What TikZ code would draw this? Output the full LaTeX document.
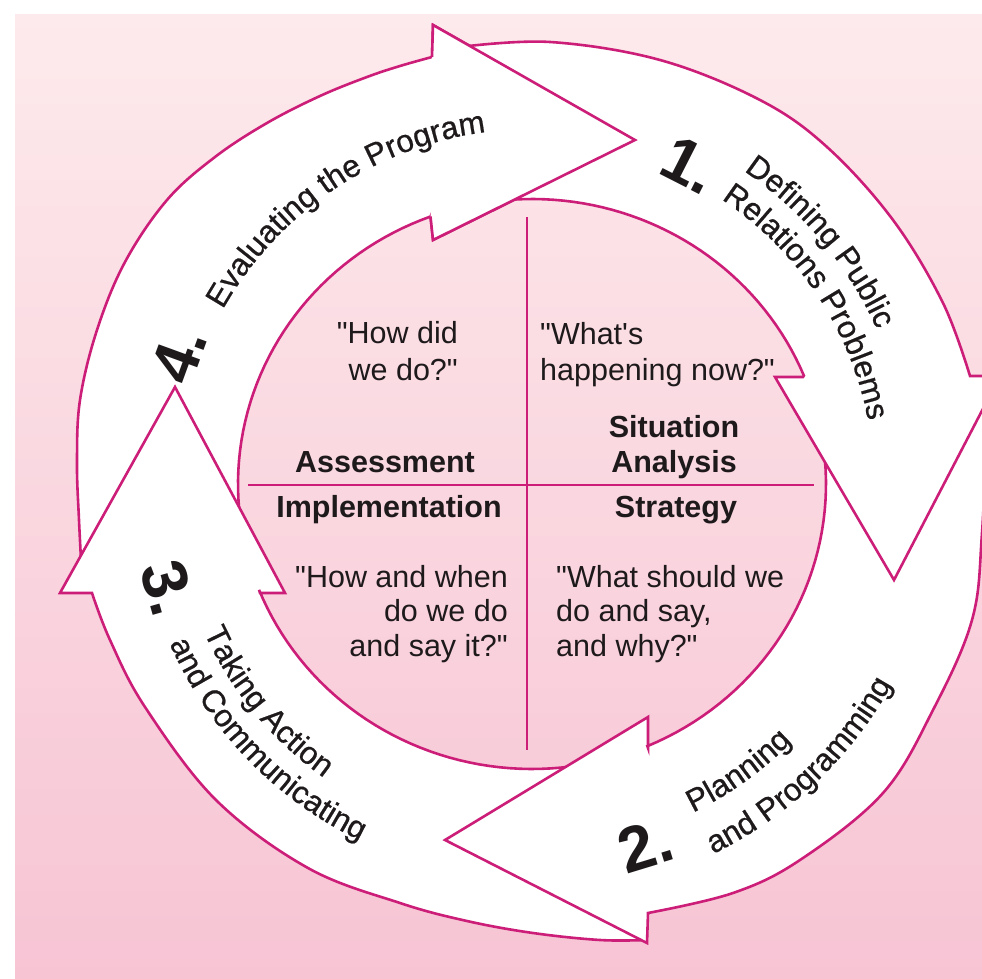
\documentclass[tikz,border=0pt]{standalone}
\usepackage{fontspec}
\setmainfont{Liberation Sans}
\newfontfamily\labfam{Liberation Sans}[FakeBold=0.7]
\usetikzlibrary{decorations.text}
\definecolor{edge}{RGB}{204,30,120}
\definecolor{bgtop}{RGB}{253,234,236}
\definecolor{bgbot}{RGB}{247,196,212}
\definecolor{ink}{RGB}{30,26,28}
\newcommand{\qfont}{\fontsize{30.5}{35}\selectfont}
\newcommand{\lfont}{\labfam\fontsize{31.5}{35}\selectfont}
\newcommand{\nfont}{\fontsize{64}{70}\selectfont\bfseries}
\newcommand{\qq}{\textquotedbl}
\begin{document}
\begin{tikzpicture}[x=1pt,y=-1pt,
  arr/.style={fill=white,draw=edge,line width=2.6pt,line join=miter},
  cross/.style={draw=edge,line width=2.6pt},
  quad/.style={font=\qfont,inner sep=0pt,text=ink},
  bquad/.style={font=\qfont\bfseries,inner sep=0pt,text=ink},
  num/.style={font=\nfont,inner sep=0pt,text=ink},
  lab/.style={decorate,decoration={text along path,text align=center,text color=ink}}]
\useasboundingbox (0,0) rectangle (982,979);
\begin{scope}
\clip (0,0) rectangle (982,979);
\fill[white] (0,0) rectangle (982,979);
\shade[top color=bgtop,bottom color=bgbot] (15,15) rectangle (982,979);

% cross
\coordinate (hl) at (248,485); \coordinate (hr) at (814,485);
\coordinate (vt) at (527,217); \coordinate (vb) at (527,750);
\draw[cross] (hl) -- (hr);
\draw[cross] (vt) -- (vb);

% arrow 4 (Evaluating)
\filldraw[arr] plot[smooth,tension=0.6] coordinates {(82,578) (79,520) (77,463) (80,400) (97,330) (125,262) (167,200) (215,157) (267,123) (320,96) (367,77) (400,66) (432,57)}
  -- (433,25) -- (635,140) -- (433,240) -- (430.5,216.5)
  -- plot[domain=110.2:187,samples=40] ({532+294*cos(\x)},{484-285*sin(\x)}) -- cycle;
% arrow 3 (Taking action)
\filldraw[arr] plot[smooth,tension=0.6] coordinates {(646,940) (600,940) (533,933) (467,921) (400,903) (308,868) (216,800) (145,707) (110,640) (92,593)}
  -- (60,593) -- (175,387) -- (285,593) -- (260,593)
  -- plot[domain=201.8:279.6,samples=40] ({532+294*cos(\x)},{484-285*sin(\x)}) -- cycle;
% arrow 2 (Planning)
\filldraw[arr] plot[smooth,tension=0.6] coordinates {(988,398) (982,533) (972,620) (933,710) (883,793) (800,860) (733,893) (648,913)}
  -- (647,943) -- (445,840) -- (648,717) -- (648,748)
  -- plot[domain=-66.9:13.1,samples=40] ({532+294*cos(\x)},{484-285*sin(\x)}) -- cycle;
% arrow 1 (Defining)
\filldraw[arr] plot[smooth,tension=0.6] coordinates {(460,47) (550,42) (660,60) (760,100) (827,147) (893,220) (943,303) (970,376)}
  -- (1000,376) -- (894,580) -- (775,377) -- (803,377)
  -- plot[domain=22.35:97.3,samples=40] ({532+294*cos(\x)},{484-285*sin(\x)}) -- cycle;
% head of arrow 4 over the tail of arrow 1
\fill[white] (432,57) -- (433,25) -- (635,140) -- (433,240) -- (430.5,216.5) -- cycle;
\draw[edge,line width=2.6pt,line join=miter] (432,57) -- (433,25) -- (635,140) -- (433,240) -- (430.5,216.5);

% arrow labels
\path[lab,decoration={text={|\lfont|Evaluating the Program}}]
  plot[domain=170:78,samples=90] ({532+355*cos(\x)},{484-355*sin(\x)});
\path[lab,decoration={text={|\lfont|Defining Public}}]
  plot[domain=75:5,samples=90] ({532+378*cos(\x)},{484-378*sin(\x)});
\path[lab,decoration={text={|\lfont|Relations Problems}}]
  plot[domain=70:-3,samples=90] ({532+342*cos(\x)},{484-342*sin(\x)});
\path[lab,decoration={text={|\lfont|Planning}}]
  plot[domain=-84.3:-24.3,samples=90] ({532+366*cos(\x)},{484-366*sin(\x)});
\path[lab,decoration={text={|\lfont|and Programming}}]
  plot[domain=-76.5:-16.5,samples=90] ({532+412*cos(\x)},{484-412*sin(\x)});
\path[lab,decoration={text={|\lfont|Taking Action}}]
  plot[domain=189.5:249.5,samples=90] ({532+360*cos(\x)},{484-360*sin(\x)});
\path[lab,decoration={text={|\lfont|and Communicating}}]
  plot[domain=194:254,samples=90] ({532+396*cos(\x)},{484-396*sin(\x)});

% numbers
\node[num,rotate=70] (n4) at (179,355) {4.};
\node[num,rotate=-27] (n1) at (690,165) {1.};
\node[num,rotate=17] (n2) at (645,845) {2.};
\node[num,rotate=-74] (n3) at (168,588) {3.};

% quadrant texts
\node[quad,anchor=base east] (q1a) at (458,343) {\qq How did};
\node[quad,anchor=base east] (q1b) at (458,380) {we do?\qq};
\node[quad,anchor=base west] (q2a) at (540,344) {\qq What\textquotesingle s};
\node[quad,anchor=base west] (q2b) at (540,380) {happening now?\qq};
\node[bquad,anchor=base] (sa1) at (674,437) {Situation};
\node[bquad,anchor=base] (sa2) at (674,472) {Analysis};
\node[bquad,anchor=base] (as) at (385,472) {Assessment};
\node[bquad,anchor=base] (im) at (389,517) {Implementation};
\node[bquad,anchor=base] (st) at (676,517) {Strategy};
\node[quad,anchor=base east] (q3a) at (508,587) {\qq How and when};
\node[quad,anchor=base east] (q3b) at (508,621) {do we do};
\node[quad,anchor=base east] (q3c) at (508,656) {and say it?\qq};
\node[quad,anchor=base west] (q4a) at (556,587) {\qq What should we};
\node[quad,anchor=base west] (q4b) at (556,621) {do and say,};
\node[quad,anchor=base west] (q4c) at (556,656) {and why?\qq};
\end{scope}
\end{tikzpicture}
\end{document}
